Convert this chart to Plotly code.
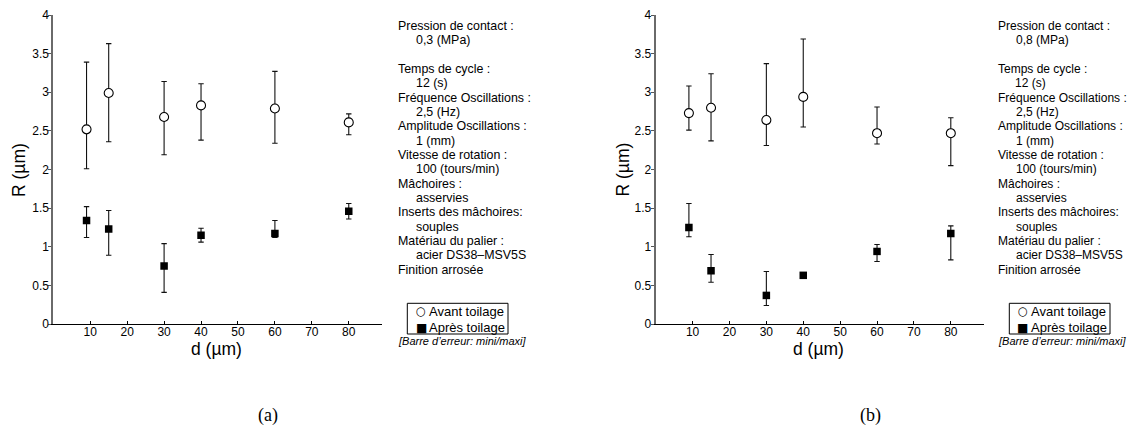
import plotly.graph_objects as go

OFF = 8.0  # page body margin in the browser
W, H = 1135 - OFF, 432 - OFF  # figure fits the 1135x432 window exactly

# ---------------- data ----------------
d = [9, 15, 30, 40, 60, 80]

a_avant = [2.52, 2.99, 2.68, 2.83, 2.79, 2.61]
a_avant_min = [2.01, 2.36, 2.19, 2.38, 2.34, 2.45]
a_avant_max = [3.39, 3.63, 3.14, 3.11, 3.27, 2.72]
a_apres = [1.34, 1.23, 0.75, 1.15, 1.17, 1.46]
a_apres_min = [1.12, 0.89, 0.41, 1.06, 1.12, 1.36]
a_apres_max = [1.52, 1.47, 1.04, 1.24, 1.34, 1.56]

b_avant = [2.73, 2.80, 2.64, 2.94, 2.47, 2.47]
b_avant_min = [2.51, 2.37, 2.31, 2.55, 2.33, 2.05]
b_avant_max = [3.08, 3.24, 3.37, 3.69, 2.81, 2.67]
b_apres = [1.25, 0.69, 0.37, 0.63, 0.94, 1.17]
b_apres_min = [1.13, 0.54, 0.24, 0.63, 0.81, 0.83]
b_apres_max = [1.56, 0.90, 0.68, 0.63, 1.03, 1.27]

x_ticks = [10, 20, 30, 40, 50, 60, 70, 80]
y_ticks = [0, 0.5, 1, 1.5, 2, 2.5, 3, 3.5, 4]
y_ticktext = ["0", "0.5", "1", "1.5", "2", "2.5", "3", "3.5", "4"]

param_labels = ["Pression de contact :", "Temps de cycle :", "Fréquence Oscillations :",
                "Amplitude Oscillations :", "Vitesse de rotation :", "Mâchoires :",
                "Inserts des mâchoires:", "Matériau du palier :"]
param_values_a = ["0,3 (MPa)", "12 (s)", "2,5 (Hz)", "1 (mm)", "100 (tours/min)",
                  "asservies", "souples", "acier DS38\u2013MSV5S"]
param_values_b = ["0,8 (MPa)", "12 (s)", "2,5 (Hz)", "1 (mm)", "100 (tours/min)",
                  "asservies", "souples", "acier DS38\u2013MSV5S"]
finish_text = "Finition arrosée"
series_names = ["Avant toilage", "Après toilage"]
series_glyphs = ["\u25cb", "\u25a0"]
errbar_note = "[Barre d\u2019erreur: mini/maxi]"
captions = ["(a)", "(b)"]

FONT = "Liberation Sans, Arial, sans-serif"

# ---------------- layout geometry (screen pixels) ----------------
panels = [
    dict(x0=53.3, x1=382.0, text_x=397.0, indent=18.0, cap_x=268.0, fs=12.4,
         rtitle_x=19.0, dtitle_x=216.0,
         leg=dict(x0=407.3, x1=508.0, sym_x=421.0, txt_x=427.5),
         data=(a_avant, a_avant_min, a_avant_max, a_apres, a_apres_min, a_apres_max),
         values=param_values_a),
    dict(x0=655.7, x1=984.0, text_x=997.0, indent=17.5, cap_x=870.0, fs=12.0,
         rtitle_x=622.5, dtitle_x=818.0,
         leg=dict(x0=1009.3, x1=1110.0, sym_x=1022.5, txt_x=1029.5),
         data=(b_avant, b_avant_min, b_avant_max, b_apres, b_apres_min, b_apres_max),
         values=param_values_b),
]
y_top_px, y_bot_px = 15.0, 324.0
leg_y0, leg_y1 = 303.3, 334.0
leg_rows = [311.3, 327.8]


def px(x):
    return (x - OFF) / W


def py(y):
    return 1 - (y - OFF) / H


fig = go.Figure()
annotations = []
shapes = []

for i, p in enumerate(panels):
    xa = "x" if i == 0 else "x2"
    ya = "y" if i == 0 else "y2"
    av, av_lo, av_hi, ap, ap_lo, ap_hi = p["data"]

    fig.add_trace(go.Scatter(
        x=d, y=av, mode="markers", name=series_names[0], xaxis=xa, yaxis=ya, showlegend=False,
        marker=dict(symbol="circle", size=9, color="white", line=dict(color="black", width=1.1)),
        error_y=dict(type="data", symmetric=False,
                     array=[h - v for h, v in zip(av_hi, av)],
                     arrayminus=[v - l for v, l in zip(av, av_lo)],
                     color="#111", thickness=1.1, width=2.7),
    ))
    fig.add_trace(go.Scatter(
        x=d, y=ap, mode="markers", name=series_names[1], xaxis=xa, yaxis=ya, showlegend=False,
        marker=dict(symbol="square", size=7.5, color="black", line=dict(color="black", width=0)),
        error_y=dict(type="data", symmetric=False,
                     array=[h - v for h, v in zip(ap_hi, ap)],
                     arrayminus=[v - l for v, l in zip(ap, ap_lo)],
                     color="#111", thickness=1.1, width=2.7),
    ))

    # parameter text block
    row_h = 14.33
    y0 = 26.0
    rows = []
    for k, (lab, val) in enumerate(zip(param_labels, p["values"])):
        r = 2 * k + (1 if k > 0 else 0)
        rows.append((r, lab, False))
        rows.append((r + 1, val, True))
    rows.append((17, finish_text, False))
    for r, txt, ind in rows:
        annotations.append(dict(
            x=px(p["text_x"] + (p["indent"] if ind else 0)), y=py(y0 + r * row_h),
            xref="paper", yref="paper", xanchor="left", yanchor="middle",
            text=txt, showarrow=False, borderpad=0,
            font=dict(family=FONT, size=p["fs"], color="black"),
        ))

    # legend box (drawn by hand to match the compact original)
    lg = p["leg"]
    shapes.append(dict(type="rect", xref="paper", yref="paper",
                       x0=px(lg["x0"]), x1=px(lg["x1"]), y0=py(leg_y1), y1=py(leg_y0),
                       line=dict(color="black", width=1), fillcolor="white"))
    for k in range(2):
        annotations.append(dict(
            x=px(lg["sym_x"]), y=py(leg_rows[k]), xref="paper", yref="paper",
            xanchor="center", yanchor="middle", text=series_glyphs[k], showarrow=False,
            borderpad=0, font=dict(family="DejaVu Sans", size=11.5 if k == 0 else 12,
                                   color="black"),
        ))
        annotations.append(dict(
            x=px(lg["txt_x"]), y=py(leg_rows[k]), xref="paper", yref="paper",
            xanchor="left", yanchor="middle", text=series_names[k], showarrow=False,
            borderpad=0, font=dict(family=FONT, size=13, color="black"),
        ))
    annotations.append(dict(
        x=px(p["text_x"]), y=py(340.5), xref="paper", yref="paper",
        xanchor="left", yanchor="middle", text="<i>" + errbar_note + "</i>", showarrow=False,
        borderpad=0, font=dict(family=FONT, size=11, color="black"),
    ))
    # axis titles
    annotations.append(dict(
        x=px(p["rtitle_x"]), y=py(170.0), xref="paper", yref="paper",
        xanchor="center", yanchor="middle", text="R (\u00b5m)", textangle=-90, showarrow=False,
        font=dict(family=FONT, size=17.5, color="black"),
    ))
    annotations.append(dict(
        x=px(p["dtitle_x"]), y=py(348.5), xref="paper", yref="paper",
        xanchor="center", yanchor="middle", text="d (\u00b5m)", showarrow=False,
        font=dict(family=FONT, size=17.5, color="black"),
    ))
    # caption
    annotations.append(dict(
        x=px(p["cap_x"]), y=py(415.0), xref="paper", yref="paper",
        xanchor="center", yanchor="middle", text=captions[i], showarrow=False,
        font=dict(family="Liberation Serif, DejaVu Serif, serif", size=18, color="black"),
    ))

xaxis_common = dict(range=[0, 89], tickvals=x_ticks, ticks="inside", ticklen=3,
                    tickcolor="black", showline=True, linecolor="black", linewidth=1,
                    showgrid=False, zeroline=False, automargin=False, ticklabelstandoff=-3,
                    tickfont=dict(family=FONT, size=12, color="black"))
yaxis_common = dict(range=[0, 4], tickvals=y_ticks, ticktext=y_ticktext, ticks="outside",
                    ticklen=3, tickcolor="#555", showline=True, linecolor="#6a6a6a",
                    linewidth=2, showgrid=False, zeroline=False, automargin=False,
                    ticklabelstandoff=-3,
                    tickfont=dict(family=FONT, size=12, color="black"))

fig.update_layout(
    width=W, height=H, margin=dict(l=0, r=0, t=0, b=0, autoexpand=False),
    paper_bgcolor="white", plot_bgcolor="white",
    xaxis=dict(domain=[px(panels[0]["x0"]), px(panels[0]["x1"])], anchor="y", **xaxis_common),
    yaxis=dict(domain=[py(y_bot_px), py(y_top_px)], anchor="x", **yaxis_common),
    xaxis2=dict(domain=[px(panels[1]["x0"]), px(panels[1]["x1"])], anchor="y2", **xaxis_common),
    yaxis2=dict(domain=[py(y_bot_px), py(y_top_px)], anchor="x2", **yaxis_common),
    showlegend=False,
    annotations=annotations,
    shapes=shapes,
)

fig.write_html("out.html")
